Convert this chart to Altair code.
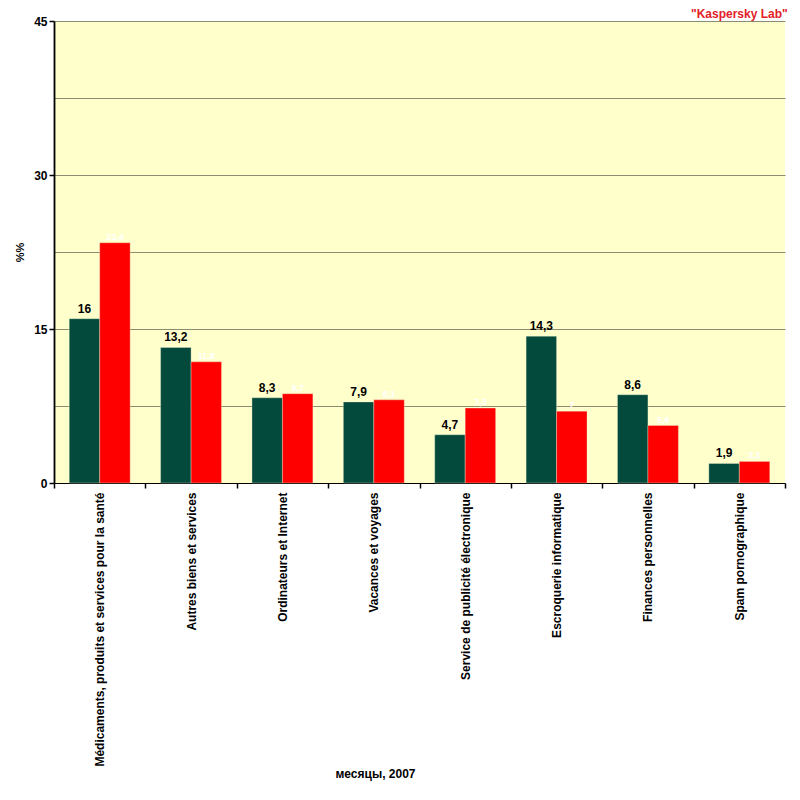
import altair as alt
import pandas as pd

categories = [
    "Médicaments, produits et services pour la santé",
    "Autres biens et services",
    "Ordinateurs et Internet",
    "Vacances et voyages",
    "Service de publicité électronique",
    "Escroquerie informatique",
    "Finances personnelles",
    "Spam pornographique",
]
series_names = ["Série 1", "Série 2"]
series1 = [16, 13.2, 8.3, 7.9, 4.7, 14.3, 8.6, 1.9]
series2 = [23.4, 11.8, 8.7, 8.1, 7.3, 7.0, 5.6, 2.1]

rows = []
for c, a, b in zip(categories, series1, series2):
    rows.append({"cat": c, "series": series_names[0], "value": a, "label": f"{a:g}".replace(".", ",")})
    rows.append({"cat": c, "series": series_names[1], "value": b, "label": f"{b:g}".replace(".", ",")})
df = pd.DataFrame(rows)

FONT = "Liberation Sans"

x = alt.X(
    "cat:N",
    sort=categories,
    scale=alt.Scale(paddingInner=0, paddingOuter=0),
    axis=alt.Axis(
        title="месяцы, 2007",
        titleFont=FONT, titleFontSize=12, titleFontWeight="bold", titleColor="black",
        titleX=321, titleY=290, titleBaseline="middle",
        labelAngle=-90, labelFont=FONT, labelFontSize=12, labelFontWeight="bold",
        labelColor="black", labelLimit=400, labelPadding=4,
        tickBand="extent", tickSize=5, tickColor="black", tickWidth=1.5,
        domainColor="black", domainWidth=1, grid=False,
    ),
)
xo = alt.XOffset(
    "series:N", sort=series_names,
    scale=alt.Scale(paddingInner=0, paddingOuter=0.5),
)
y = alt.Y(
    "value:Q",
    scale=alt.Scale(domain=[0, 45], nice=False),
    axis=alt.Axis(
        title="%%",
        titleFont=FONT, titleFontSize=11, titleFontWeight="bold", titleColor="black",
        titleX=-34, titleY=231, titleBaseline="middle", titleAlign="center",
        values=[0, 7.5, 15, 22.5, 30, 37.5, 45],
        labelExpr="datum.value % 15 === 0 ? datum.label : ''",
        labelFont=FONT, labelFontSize=12, labelFontWeight="bold", labelColor="black",
        labelPadding=2,
        tickSize=5, tickWidth=1.5,
        tickColor={"condition": {"test": "datum.value % 15 !== 0", "value": "transparent"}, "value": "black"},
        grid=True, gridColor="#8c8c72", gridWidth=1.2,
        domainColor="black", domainWidth=1.8,
    ),
)

base = alt.Chart(df)

bars = base.mark_bar(stroke="#e8f0d0", strokeWidth=0.6, strokeOpacity=0.6).encode(
    x=x, xOffset=xo, y=y,
    color=alt.Color("series:N", sort=series_names,
                    scale=alt.Scale(domain=series_names, range=["#044a3c", "#ff0000"]),
                    legend=None),
)

labels1 = base.transform_filter(alt.datum.series == series_names[0]).mark_text(
    font=FONT, fontSize=12, fontWeight="bold", color="black", baseline="bottom", dy=-3
).encode(x=x, xOffset=xo, y=y, text="label:N")

labels2 = base.transform_filter(alt.datum.series == series_names[1]).mark_text(
    font=FONT, fontSize=9, fontWeight="bold", color="white", baseline="bottom", dy=-1
).encode(x=x, xOffset=xo, y=y, text="label:N")

chart = alt.layer(bars, labels1, labels2).properties(
    width=731,
    height=462,
    autosize=alt.AutoSizeParams(type="none"),
    padding={"left": 46, "top": 13, "right": 7, "bottom": 308},
    background="white",
    title=alt.TitleParams(
        '"Kaspersky Lab"', anchor="end", color="#e32028", font=FONT,
        fontSize=12, fontWeight="bold", dx=2, offset=-6,
    ),
).configure_view(fill="#ffffcc", stroke=None)

chart.save("out.html", embed_options={"renderer": "svg", "actions": False})
